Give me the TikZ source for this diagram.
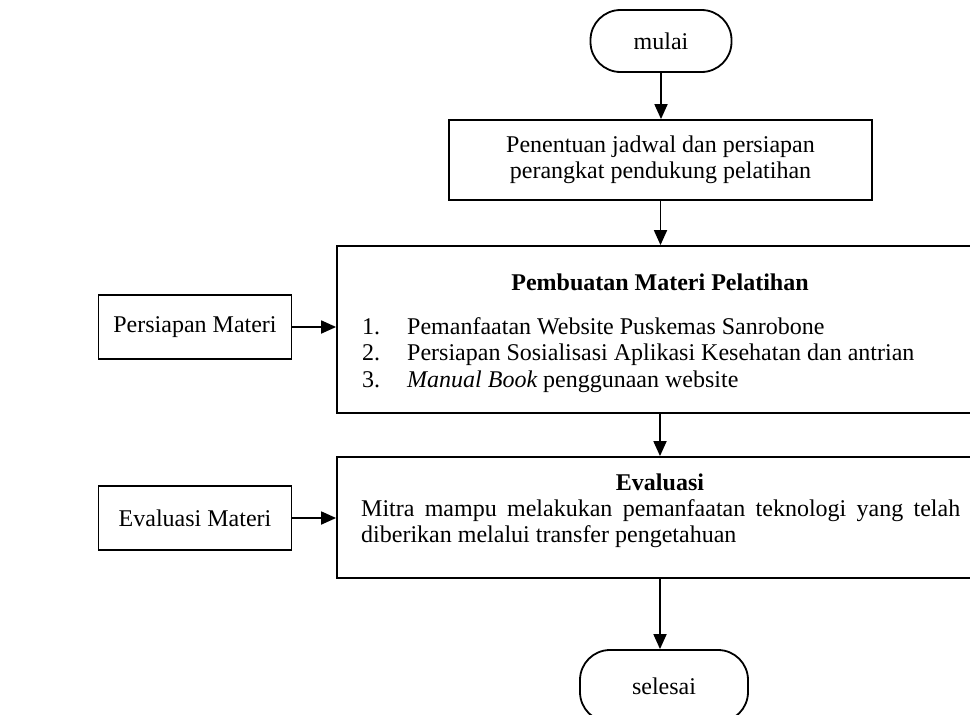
\documentclass[tikz,border=0pt]{standalone}
\usepackage{fontspec}
\setmainfont{Liberation Serif}
\usetikzlibrary{arrows.meta}
\begin{document}
\begin{tikzpicture}[x=1pt,y=-1pt,
  every node/.style={font=\fontsize{24}{26.5}\selectfont},
  arr/.style={line width=1.8pt,-{Triangle[length=15pt,width=13pt]}},
  boxnode/.style={draw,line width=1.8pt,inner sep=0pt,minimum width=#1},
  term/.style={draw,line width=1.8pt,rounded corners=30pt,inner sep=0pt},
  txt/.style={inner sep=0pt}]
\clip (0,0) rectangle (970,715);
% terminals
\node[term,minimum width=141pt,minimum height=62pt] (mulai) at (661,41) {mulai};
\node[term,minimum width=168pt,minimum height=72pt] (selesai) at (664,686) {selesai};
% process boxes
\node[boxnode=423pt,minimum height=80pt,align=center] (jadwal) at (660.5,160)
  {Penentuan jadwal dan persiapan\\perangkat pendukung pelatihan};
\node[boxnode=646pt,minimum height=167pt] (materi) at (660,329.5) {};
\node[boxnode=646pt,minimum height=121pt] (evaluasi) at (660,517.5) {};
\node[boxnode=193pt,minimum height=64pt] (persiapan) at (195,327) {Persiapan Materi};
\node[boxnode=193pt,minimum height=64pt] (evalmateri) at (195,518) {Evaluasi Materi};
% texts inside the materi box
\node[txt,anchor=base] (mtitle) at (660,290) {\bfseries Pembuatan Materi Pelatihan};
\node[txt,anchor=base west] (n1) at (362,334) {1.};
\node[txt,anchor=base west] (n2) at (362,360.5) {2.};
\node[txt,anchor=base west] (n3) at (362,387) {3.};
\node[txt,anchor=base west] (t1) at (407,334) {Pemanfaatan Website Puskemas Sanrobone};
\node[txt,anchor=base west] (t2) at (407,360.5) {Persiapan Sosialisasi Aplikasi Kesehatan dan antrian};
\node[txt,anchor=base west] (t3) at (407,387) {\itshape Manual Book\upshape{} penggunaan website};
% texts inside the evaluasi box
\node[txt,anchor=base] (etitle) at (660,490) {\bfseries Evaluasi};
\node[txt,anchor=base west] (etext) at (361,516)
  {\parbox[t]{599pt}{\hyphenpenalty=10000\fontsize{24}{26.5}\selectfont Mitra mampu melakukan pemanfaatan teknologi yang telah\linebreak diberikan melalui transfer pengetahuan}};
% connectors
\draw[arr] (mulai.south) -- (mulai.south |- jadwal.north);
\draw[arr] (jadwal.south) -- (jadwal.south |- materi.north);
\draw[arr] (materi.south) -- (evaluasi.north);
\draw[arr] (persiapan.east) -- (persiapan.east -| materi.west);
\draw[arr] (evalmateri.east) -- (evalmateri.east -| evaluasi.west);
\draw[arr] (evaluasi.south) -- (evaluasi.south |- selesai.north);
\end{tikzpicture}
\end{document}
